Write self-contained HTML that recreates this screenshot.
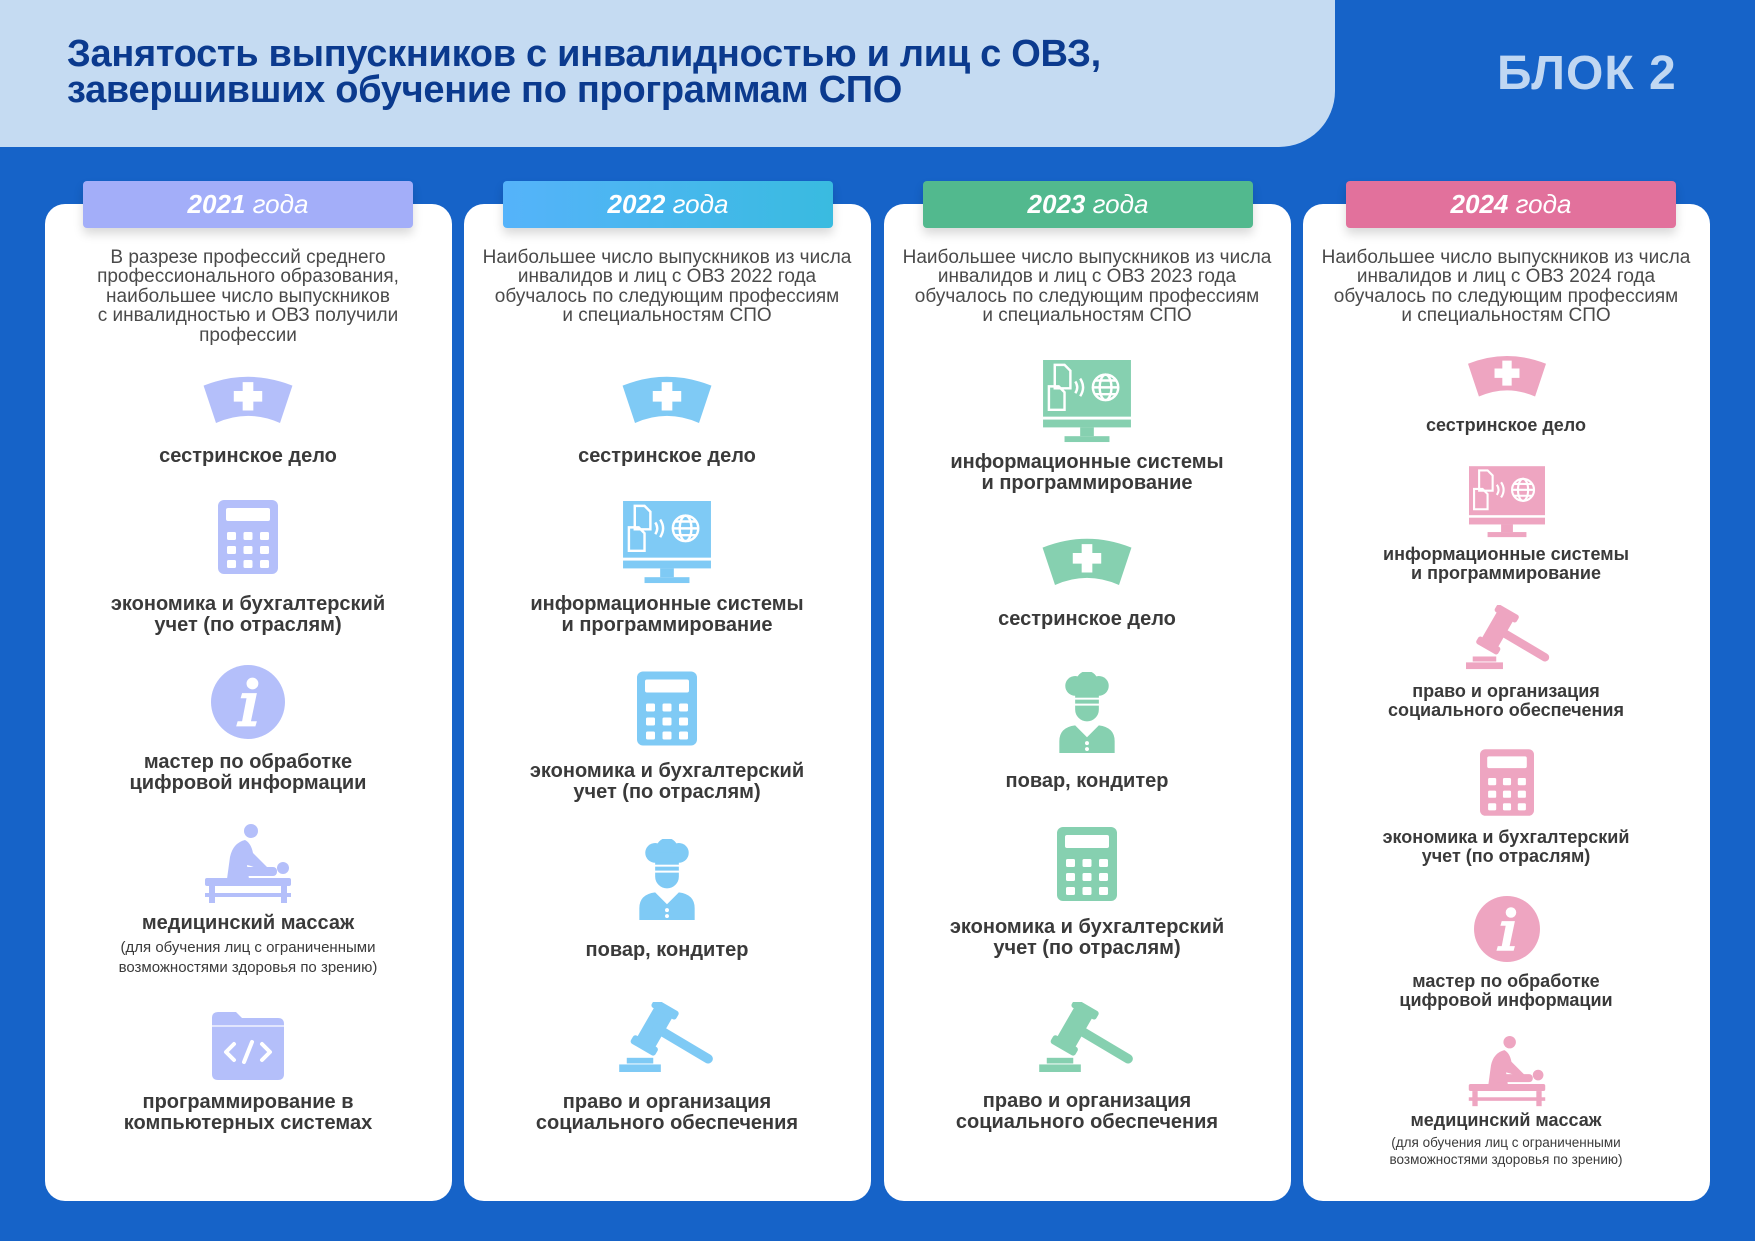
<!DOCTYPE html>
<html><head><meta charset="utf-8"><style>
*{margin:0;padding:0;box-sizing:border-box}
body{width:1755px;height:1241px;overflow:hidden;background:#1663c8;font-family:"Liberation Sans",sans-serif;position:relative}
.band{position:absolute;left:0;top:0;width:1335px;height:147px;background:#c5dbf2;border-bottom-right-radius:56px}
.title{position:absolute;left:67px;top:36px;font-size:38px;line-height:36px;font-weight:bold;color:#0b3a8e;letter-spacing:-0.3px}
.blk{position:absolute;left:1497px;top:46px;font-size:48px;font-weight:bold;color:#c0d7f2;letter-spacing:1px}
.card{position:absolute;top:204px;width:407px;height:997px;background:#fff;border-radius:20px}
.tab{position:absolute;top:181px;width:330px;height:47px;border-radius:4px;color:#fff;text-align:center;font-size:26px;line-height:47px;font-style:italic;box-shadow:0 6px 10px rgba(0,0,0,.15)}
.tab b{font-weight:bold}
.t{position:absolute;width:400px;text-align:center;color:#3a3a3a}
.d{font-size:19px;line-height:19.4px;color:#4a4a4a}
.l{font-size:20px;line-height:21px;font-weight:bold}
.l4{font-size:18px;line-height:19px;font-weight:bold}
.s{font-size:15px;line-height:20px}
.s4{font-size:13.5px;line-height:17px}
svg.i{position:absolute}
</style></head><body>
<svg width="0" height="0" style="position:absolute">
<symbol id="cap" viewBox="0 0 100 54"><path d="M0,12 Q50,-8 100,12 L86,54 Q50,38 14,54 Z"/><path fill="#fff" d="M44,8h12v10h10v12h-10v10h-12v-10h-10v-12h10z"/></symbol>
<symbol id="calc" viewBox="0 0 60 74"><rect width="60" height="74" rx="6"/><rect x="8" y="8" width="44" height="13" rx="2" fill="#fff"/>
<g fill="#fff"><rect x="9" y="32" width="9" height="8" rx="1.5"/><rect x="25.5" y="32" width="9" height="8" rx="1.5"/><rect x="42" y="32" width="9" height="8" rx="1.5"/><rect x="9" y="46" width="9" height="8" rx="1.5"/><rect x="25.5" y="46" width="9" height="8" rx="1.5"/><rect x="42" y="46" width="9" height="8" rx="1.5"/><rect x="9" y="60" width="9" height="8" rx="1.5"/><rect x="25.5" y="60" width="9" height="8" rx="1.5"/><rect x="42" y="60" width="9" height="8" rx="1.5"/></g></symbol>
<symbol id="info" viewBox="0 0 100 100"><circle cx="50" cy="50" r="50"/><circle cx="56" cy="25" r="8" fill="#fff"/><path fill="#fff" d="M42,38 h20 l-8,38 h8 l-2,7 h-26 l2,-7 h6 l6,-31 h-8 z"/></symbol>
<symbol id="mon" viewBox="0 0 90 86"><rect width="90" height="58"/><rect y="61" width="90" height="8"/><rect x="38" y="69" width="14" height="9"/><rect x="22" y="78" width="46" height="6"/>
<g fill="none" stroke="#fff" stroke-width="2.5"><path d="M12,5 h10 l6,6 v18 h-16z"/><path d="M6,27 h10 l6,6 v18 h-16z"/><path d="M33,22 q4,6 0,12"/><path d="M38,19 q6,9 0,18"/><circle cx="64" cy="28" r="13"/><ellipse cx="64" cy="28" rx="6" ry="13"/><path d="M51,28h26M53,21h22M53,35h22"/></g></symbol>
<symbol id="chef" viewBox="0 0 60 82"><circle cx="18" cy="14" r="10"/><circle cx="30" cy="10" r="11"/><circle cx="42" cy="14" r="10"/><rect x="18" y="14" width="24" height="12"/><rect x="18" y="28" width="24" height="4"/><path d="M18,34 h24 v4 a12,12 0 0 1 -24,0z"/><path d="M2,82 V70 Q2,56 18,54 L30,66 L42,54 Q58,56 58,70 V82 Z"/><circle cx="30" cy="72" r="2" fill="#fff"/><circle cx="30" cy="78" r="2" fill="#fff"/></symbol>
<symbol id="gav" viewBox="0 0 100 74"><g transform="rotate(30 38 26)"><rect x="27" y="6" width="22" height="42" rx="3"/><rect x="23" y="0" width="30" height="10" rx="3"/><rect x="23" y="44" width="30" height="10" rx="3"/></g><line x1="40" y1="28" x2="94" y2="60" stroke-width="10" stroke-linecap="round" stroke="currentColor"/><rect x="0" y="66" width="44" height="8"/><rect x="8" y="59" width="28" height="6"/></symbol>
<symbol id="mas" viewBox="0 0 90 82"><circle cx="48" cy="8" r="7"/><path d="M42,17 Q30,20 27,34 L24,56 H46 L44,42 Q54,44 60,50 L66,46 Q56,36 50,30 Q48,20 42,17Z"/><rect x="30" y="44" width="44" height="9" rx="4"/><circle cx="80" cy="45" r="6"/><rect x="2" y="55" width="86" height="8" rx="2"/><rect x="6" y="63" width="6" height="17"/><rect x="78" y="63" width="6" height="17"/><rect x="2" y="70" width="86" height="4"/></symbol>
<symbol id="fold" viewBox="0 0 72 70"><path d="M0,8 Q0,2 6,2 H24 L30,8 H66 Q72,8 72,14 V64 Q72,70 66,70 H6 Q0,70 0,64 Z"/><path d="M0,16 H72" stroke="#fff" stroke-width="2" opacity=".6"/><g fill="none" stroke="#fff" stroke-width="4" stroke-linecap="round" stroke-linejoin="round"><polyline points="22,34 14,42 22,50"/><polyline points="50,34 58,42 50,50"/><line x1="40" y1="32" x2="32" y2="52"/></g></symbol>
</svg>

<div class="band"></div>
<div class="title">Занятость выпускников с инвалидностью и лиц с ОВЗ,<br>завершивших обучение по программам СПО</div>
<div class="blk">БЛОК 2</div>

<div class="card" style="left:45px"></div>
<div class="card" style="left:464px"></div>
<div class="card" style="left:884px"></div>
<div class="card" style="left:1303px"></div>

<div class="tab" style="left:83px;background:#a3aef9"><b>2021</b> года</div>
<div class="tab" style="left:503px;background:linear-gradient(90deg,#55b3fa,#39bbe0)"><b>2022</b> года</div>
<div class="tab" style="left:923px;background:#52b98e"><b>2023</b> года</div>
<div class="tab" style="left:1346px;background:#e2719c"><b>2024</b> года</div>

<!-- Card 1 -->
<div class="t d" style="left:48px;top:248px">В разрезе профессий среднего<br>профессионального образования,<br>наибольшее число выпускников<br>с инвалидностью и ОВЗ получили<br>профессии</div>
<svg class="i" style="left:203px;top:375px;color:#b4bffa;fill:#b4bffa" width="90" height="48"><use href="#cap"/></svg>
<div class="t l" style="left:48px;top:446px">сестринское дело</div>
<svg class="i" style="left:218px;top:500px;fill:#b4bffa" width="60" height="74"><use href="#calc"/></svg>
<div class="t l" style="left:48px;top:594px">экономика и бухгалтерский<br>учет (по отраслям)</div>
<svg class="i" style="left:211px;top:665px;fill:#b4bffa" width="74" height="74"><use href="#info"/></svg>
<div class="t l" style="left:48px;top:752px">мастер по обработке<br>цифровой информации</div>
<svg class="i" style="left:203px;top:823px;fill:#b4bffa" width="90" height="82"><use href="#mas"/></svg>
<div class="t l" style="left:48px;top:913px">медицинский массаж</div>
<div class="t s" style="left:48px;top:938px">(для обучения лиц с ограниченными<br>возможностями здоровья по зрению)</div>
<svg class="i" style="left:212px;top:1010px;fill:#b4bffa" width="72" height="70"><use href="#fold"/></svg>
<div class="t l" style="left:48px;top:1092px">программирование в<br>компьютерных системах</div>

<!-- Card 2 -->
<div class="t d" style="left:467px;top:248px">Наибольшее число выпускников из числа<br>инвалидов и лиц с ОВЗ 2022 года<br>обучалось по следующим профессиям<br>и специальностям СПО</div>
<svg class="i" style="left:622px;top:375px;fill:#7fcaf5" width="90" height="48"><use href="#cap"/></svg>
<div class="t l" style="left:467px;top:446px">сестринское дело</div>
<svg class="i" style="left:623px;top:501px;fill:#7fcaf5" width="88" height="84"><use href="#mon"/></svg>
<div class="t l" style="left:467px;top:594px">информационные системы<br>и программирование</div>
<svg class="i" style="left:637px;top:671px;fill:#7fcaf5" width="60" height="75"><use href="#calc"/></svg>
<div class="t l" style="left:467px;top:761px">экономика и бухгалтерский<br>учет (по отраслям)</div>
<svg class="i" style="left:637px;top:839px;fill:#7fcaf5" width="60" height="81"><use href="#chef"/></svg>
<div class="t l" style="left:467px;top:940px">повар, кондитер</div>
<svg class="i" style="left:619px;top:1002px;fill:#7fcaf5;color:#7fcaf5" width="95" height="70"><use href="#gav"/></svg>
<div class="t l" style="left:467px;top:1092px">право и организация<br>социального обеспечения</div>

<!-- Card 3 -->
<div class="t d" style="left:887px;top:248px">Наибольшее число выпускников из числа<br>инвалидов и лиц с ОВЗ 2023 года<br>обучалось по следующим профессиям<br>и специальностям СПО</div>
<svg class="i" style="left:1043px;top:360px;fill:#86d0b0" width="88" height="84"><use href="#mon"/></svg>
<div class="t l" style="left:887px;top:452px">информационные системы<br>и программирование</div>
<svg class="i" style="left:1042px;top:537px;fill:#86d0b0" width="90" height="48"><use href="#cap"/></svg>
<div class="t l" style="left:887px;top:609px">сестринское дело</div>
<svg class="i" style="left:1057px;top:672px;fill:#86d0b0" width="60" height="81"><use href="#chef"/></svg>
<div class="t l" style="left:887px;top:771px">повар, кондитер</div>
<svg class="i" style="left:1057px;top:827px;fill:#86d0b0" width="60" height="74"><use href="#calc"/></svg>
<div class="t l" style="left:887px;top:917px">экономика и бухгалтерский<br>учет (по отраслям)</div>
<svg class="i" style="left:1039px;top:1002px;fill:#86d0b0;color:#86d0b0" width="95" height="70"><use href="#gav"/></svg>
<div class="t l" style="left:887px;top:1091px">право и организация<br>социального обеспечения</div>

<!-- Card 4 -->
<div class="t d" style="left:1306px;top:248px">Наибольшее число выпускников из числа<br>инвалидов и лиц с ОВЗ 2024 года<br>обучалось по следующим профессиям<br>и специальностям СПО</div>
<svg class="i" style="left:1468px;top:354px;fill:#eea5c1" width="78" height="43"><use href="#cap"/></svg>
<div class="t l4" style="left:1306px;top:416px">сестринское дело</div>
<svg class="i" style="left:1469px;top:465px;fill:#eea5c1" width="76" height="75"><use href="#mon"/></svg>
<div class="t l4" style="left:1306px;top:545px">информационные системы<br>и программирование</div>
<svg class="i" style="left:1466px;top:605px;fill:#eea5c1;color:#eea5c1" width="84" height="66"><use href="#gav"/></svg>
<div class="t l4" style="left:1306px;top:682px">право и организация<br>социального обеспечения</div>
<svg class="i" style="left:1480px;top:749px;fill:#eea5c1" width="54" height="67"><use href="#calc"/></svg>
<div class="t l4" style="left:1306px;top:828px">экономика и бухгалтерский<br>учет (по отраслям)</div>
<svg class="i" style="left:1474px;top:896px;fill:#eea5c1" width="66" height="66"><use href="#info"/></svg>
<div class="t l4" style="left:1306px;top:972px">мастер по обработке<br>цифровой информации</div>
<svg class="i" style="left:1467px;top:1035px;fill:#eea5c1" width="80" height="73"><use href="#mas"/></svg>
<div class="t l4" style="left:1306px;top:1111px">медицинский массаж</div>
<div class="t s4" style="left:1306px;top:1134px">(для обучения лиц с ограниченными<br>возможностями здоровья по зрению)</div>
</body></html>
